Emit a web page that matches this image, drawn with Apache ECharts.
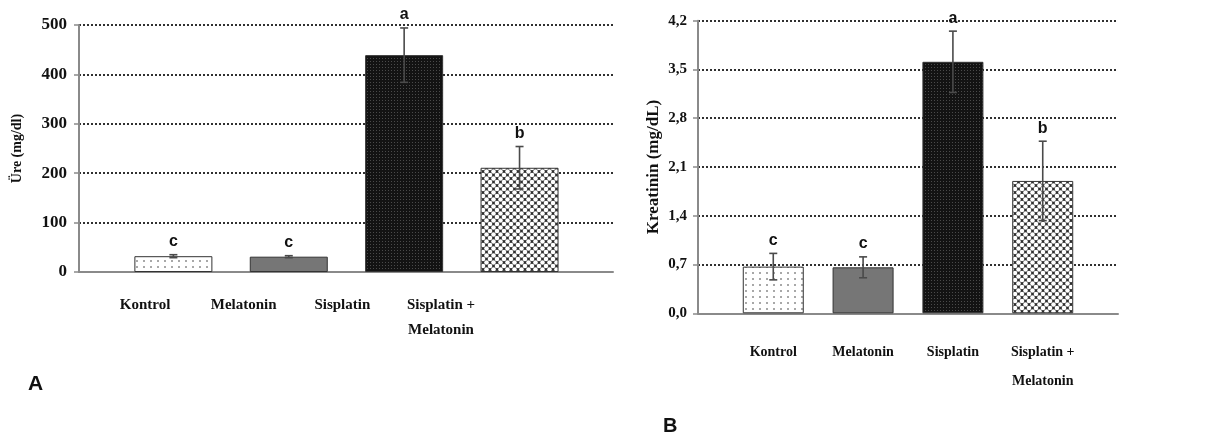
<!DOCTYPE html>
<html><head><meta charset="utf-8">
<script src="https://cdn.jsdelivr.net/npm/echarts@6/dist/echarts.min.js"></script>
<style>html,body{margin:0;padding:0;background:#fff}#c{width:1227px;height:442px}</style>
</head><body><div id="c"></div>
<script>
const categories = ['Kontrol', 'Melatonin', 'Sisplatin', 'Sisplatin +\nMelatonin'];
const ureMeans = [32, 31, 439, 211];
const ureErrors = [3, 2, 55, 43];
const kreMeans = [0.67, 0.66, 3.61, 1.90];
const kreErrors = [0.19, 0.15, 0.44, 0.57];
const letters = ['c', 'c', 'a', 'b'];
const ureAxis = { min: 0, max: 500, interval: 100 };
const kreAxis = { min: 0, max: 4.2, interval: 0.7 };
const ureName = 'Üre (mg/dl)';
const kreName = 'Kreatinin (mg/dL)';

function pat(w, h, draw) {
  const c = document.createElement('canvas'); c.width = w; c.height = h;
  const g = c.getContext('2d'); draw(g, w, h);
  return { image: c, repeat: 'repeat' };
}
const fills = [
  pat(7, 6, (g) => { g.fillStyle = '#fff'; g.fillRect(0, 0, 7, 6); g.fillStyle = '#a8a8a8'; g.fillRect(3, 2, 2, 2); }),
  '#767676',
  pat(3, 3, (g) => { g.fillStyle = '#131313'; g.fillRect(0, 0, 3, 3); g.fillStyle = '#4a4a4a'; g.fillRect(1, 1, 1, 1); }),
  pat(7, 7, (g) => {
    g.fillStyle = '#2e2e2e'; g.fillRect(0, 0, 7, 7); g.fillStyle = '#fff';
    [[3.5, 3.5], [0, 0], [7, 0], [0, 7], [7, 7]].forEach(p => { g.beginPath(); g.arc(p[0], p[1], 2.3, 0, Math.PI * 2); g.fill(); });
  })
];

const serif = 'Liberation Serif';
const sans = 'Liberation Sans';
const gridLine = { show: true, lineStyle: { type: [2, 2], color: '#1a1a1a', width: 1.8 } };
const axisLn = { show: true, onZero: false, lineStyle: { color: '#8a8a8a', width: 2 } };

function makeErr(letterSize) {
  return function (params, api) {
    const x = api.value(0), m = api.value(1), e = api.value(2);
    const top = api.coord([x, m + e]);
    const bot = api.coord([x, m - e]);
    const cw = 4;
    const st = { stroke: '#4a4a4a', lineWidth: 1.6 };
    return {
      type: 'group', children: [
        { type: 'line', shape: { x1: top[0], y1: top[1], x2: bot[0], y2: bot[1] }, style: st },
        { type: 'line', shape: { x1: top[0] - cw, y1: top[1], x2: top[0] + cw, y2: top[1] }, style: st },
        { type: 'line', shape: { x1: bot[0] - cw, y1: bot[1], x2: bot[0] + cw, y2: bot[1] }, style: st },
        { type: 'text', x: top[0], y: top[1] - 13, style: { text: letters[params.dataIndex], fill: '#111', font: 'bold ' + letterSize + 'px ' + sans, align: 'center', verticalAlign: 'middle' } }
      ]
    };
  };
}

const chart = echarts.init(document.getElementById('c'), null, { renderer: 'canvas' });
chart.setOption({
  animation: false,
  backgroundColor: '#fff',
  grid: [
    { left: 79, top: 25, width: 534, height: 247 },
    { left: 698, top: 20.7, width: 420, height: 292.6 },
    { left: 95.7, top: 25, width: 394.6, height: 247 }
  ],
  xAxis: [
    { type: 'value', gridIndex: 0, min: -0.818, max: 3.81, axisLine: axisLn, axisTick: { show: false }, axisLabel: { show: false }, splitLine: { show: false } },
    { type: 'value', gridIndex: 1, min: -0.838, max: 3.838, axisLine: axisLn, axisTick: { show: false }, splitLine: { show: false },
      axisLabel: { customValues: [0, 1, 2, 3], formatter: v => categories[Math.round(v)], margin: 25, lineHeight: 29, fontSize: 14, fontWeight: 'bold', fontFamily: serif, color: '#111' } },
    { type: 'category', gridIndex: 2, data: categories, axisLine: { show: false }, axisTick: { show: false }, splitLine: { show: false },
      axisLabel: { margin: 20.5, lineHeight: 25, fontSize: 15, fontWeight: 'bold', fontFamily: serif, color: '#111' } }
  ],
  yAxis: [
    { type: 'value', gridIndex: 0, min: ureAxis.min, max: ureAxis.max, interval: ureAxis.interval, axisLine: axisLn,
      axisTick: { show: true, length: 5, lineStyle: { color: '#8a8a8a', width: 1.5 } },
      axisLabel: { margin: 12, fontSize: 17, fontWeight: 'bold', fontFamily: serif, color: '#111' },
      splitLine: gridLine,
      name: ureName, nameLocation: 'middle', nameGap: 55, nameTextStyle: { fontSize: 14, fontWeight: 'bold', fontFamily: serif, color: '#111' } },
    { type: 'value', gridIndex: 1, min: kreAxis.min, max: kreAxis.max, interval: kreAxis.interval, axisLine: axisLn,
      axisTick: { show: true, length: 5, lineStyle: { color: '#8a8a8a', width: 1.5 } },
      axisLabel: { margin: 11, fontSize: 15, fontWeight: 'bold', fontFamily: serif, color: '#111', formatter: v => v.toFixed(1).replace('.', ',') },
      splitLine: gridLine,
      name: kreName, nameLocation: 'middle', nameGap: 36, nameTextStyle: { fontSize: 17, fontWeight: 'bold', fontFamily: serif, color: '#111' } },
    { type: 'value', gridIndex: 2, show: false }
  ],
  series: [
    { type: 'bar', xAxisIndex: 0, yAxisIndex: 0, barWidth: 78, z: 2,
      itemStyle: { borderColor: '#333', borderWidth: 1 },
      data: ureMeans.map((v, i) => ({ value: [i, v], itemStyle: { color: fills[i] } })) },
    { type: 'bar', xAxisIndex: 1, yAxisIndex: 1, barWidth: 61, z: 2,
      itemStyle: { borderColor: '#333', borderWidth: 1 },
      data: kreMeans.map((v, i) => ({ value: [i, v], itemStyle: { color: fills[i] } })) },
    { type: 'custom', xAxisIndex: 0, yAxisIndex: 0, z: 5, renderItem: makeErr(16),
      data: ureMeans.map((v, i) => [i, v, ureErrors[i]]) },
    { type: 'custom', xAxisIndex: 1, yAxisIndex: 1, z: 5, renderItem: makeErr(16),
      data: kreMeans.map((v, i) => [i, v, kreErrors[i]]) }
  ],
  graphic: [
    { type: 'text', left: 28, top: 374, style: { text: 'A', font: 'bold 21px ' + sans, fill: '#111' } },
    { type: 'text', left: 663, top: 416, style: { text: 'B', font: 'bold 20px ' + sans, fill: '#111' } }
  ]
});
</script>
</body></html>
